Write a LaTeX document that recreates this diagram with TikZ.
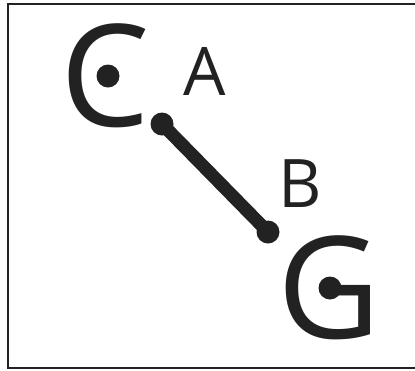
\documentclass[tikz,border=0pt]{standalone}
\usepackage{fontspec}
\setmainfont{Open Sans}
\usepackage{tikz}
\definecolor{inkgray}{HTML}{222222}

\begin{document}
\begin{tikzpicture}[x=1pt, y=-1pt,
          every node/.style={inner sep=0pt, outer sep=0pt, text=inkgray},
          bigletter/.style={font=\fontsize{142}{142}\selectfont},
          smalllabel/.style={font=\fontsize{67}{67}\selectfont},
          blob/.style={circle, fill=inkgray, minimum size=23pt},
          bar/.style={draw=inkgray, line width=13pt}
        ]
        \useasboundingbox (0,0) rectangle (415,370);
        \clip (0,0) rectangle (415,370);
        \draw[line width=2pt, inkgray] (8,4) rectangle (430,368);
        \node[bigletter] (cletter) at (105,76) {C};
        \node[bigletter] (gletter) at (329,288) {G};
        \node[smalllabel] (alabel) at (205,71) {A};
        \node[smalllabel] (blabel) at (300,184) {B};
        \node[blob] (cdot) at (108,76) {};
        \node[blob] (gdot) at (330,288) {};
        \node[blob] (aend) at (162,124) {};
        \node[blob] (bend) at (268,232) {};
        \draw[bar] (aend.center) -- (bend.center);
      \end{tikzpicture}
\end{document}
